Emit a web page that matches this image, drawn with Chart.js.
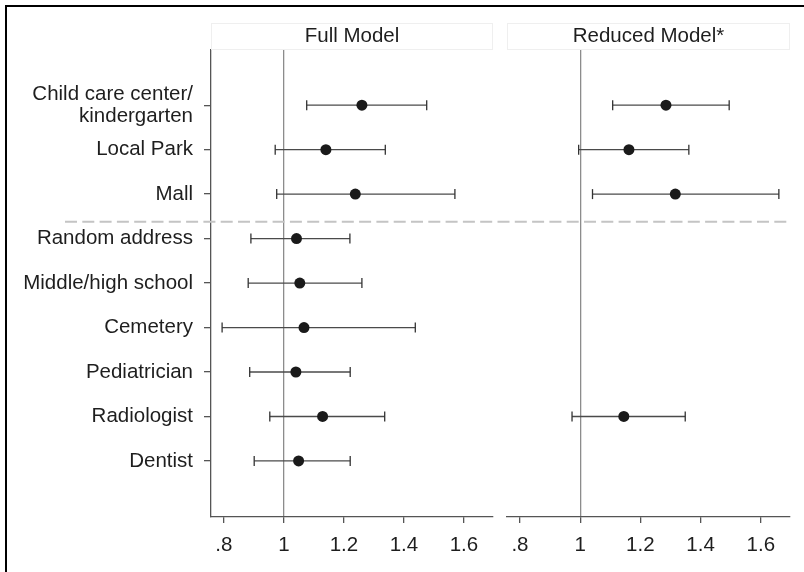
<!DOCTYPE html>
<html>
<head>
<meta charset="utf-8">
<script src="https://cdn.jsdelivr.net/npm/chart.js@4.4.0/dist/chart.umd.min.js"></script>
<style>
  body { margin: 0; background: #fff; overflow: hidden; }
  .wrap { position: absolute; left: 0; top: 0; width: 804px; height: 572px; }
  .wrap canvas { position: absolute; left: 0; top: 0; }
  .frame { position: absolute; left: 5px; top: 5px; width: 900px; height: 700px; border-left: 2px solid #000; border-top: 2px solid #000; }
</style>
</head>
<body>
<div class="wrap">
  <div class="frame"></div>
  <canvas id="fullChart" width="804" height="572"></canvas>
  <canvas id="reducedChart" width="804" height="572"></canvas>
</div>
<script>
const rows = [["Child care center/", "kindergarten"], "Local Park", "Mall", "Random address",
  "Middle/high school", "Cemetery", "Pediatrician", "Radiologist", "Dentist"];

// Full model: odds ratio and 95% CI
const fullEst = [1.26, 1.14, 1.238, 1.042, 1.053, 1.067, 1.04, 1.129, 1.049];
const fullLow = [1.076, 0.971, 0.976, 0.89, 0.881, 0.794, 0.886, 0.953, 0.901];
const fullHigh = [1.476, 1.338, 1.57, 1.22, 1.26, 1.438, 1.221, 1.336, 1.221];

// Reduced model (only some destinations)
const redEst = [1.285, 1.162, 1.316, null, null, null, null, 1.145, null];
const redLow = [1.108, 0.995, 1.041, null, null, null, null, 0.973, null];
const redHigh = [1.495, 1.361, 1.66, null, null, null, null, 1.349, null];

const xTicks = [0.8, 1, 1.2, 1.4, 1.6];
const splitAfter = 2.62; // dashed separator between Mall and Random address

const FONT = "'Liberation Sans', Arial, sans-serif";
const textColor = "#1e1e1e";
const axisColor = "#555";

function buildDatasets(est, low, high) {
  let sets = [{
    type: "scatter",
    data: est.map((v, i) => (v == null ? null : { x: v, y: i })).filter(p => p),
    pointRadius: 5.5,
    pointHoverRadius: 5.5,
    pointBackgroundColor: "#1a1a1a",
    pointBorderWidth: 0,
    order: 0,
    clip: false,
  }];
  est.forEach((v, i) => {
    if (v == null) return;
    sets.push({
      type: "line",
      data: [{ x: low[i], y: i }, { x: high[i], y: i }],
      borderColor: "#4a4a4a",
      borderWidth: 1.3,
      pointStyle: "line",
      rotation: 90,
      pointRadius: 5,
      pointHoverRadius: 5,
      pointBorderColor: "#333",
      pointBorderWidth: 1.3,
      order: 1,
      clip: false,
    });
  });
  return sets;
}

const headerPlugin = {
  id: "header",
  afterDraw(chart, args, opts) {
    const ctx = chart.ctx;
    const a = chart.chartArea;
    ctx.save();
    ctx.strokeStyle = "#efefef";
    ctx.lineWidth = 1;
    ctx.strokeRect(a.left + 0.5, 23.5, a.right - a.left - 1, 26);
    ctx.fillStyle = textColor;
    ctx.font = "20.5px " + FONT;
    ctx.textAlign = "center";
    ctx.textBaseline = "middle";
    ctx.fillText(opts.text, (a.left + a.right) / 2, 36.5);
    if (opts.split) {
      const y = chart.scales.y.getPixelForValue(splitAfter);
      ctx.strokeStyle = "#c4c4c4";
      ctx.lineWidth = 2;
      ctx.setLineDash([12, 5.3]);
      ctx.beginPath();
      ctx.moveTo(65, y);
      ctx.lineTo(787, y);
      ctx.stroke();
    }
    ctx.restore();
  },
};

function makeChart(id, est, low, high, title, showY, pad, split) {
  return new Chart(document.getElementById(id), {
    data: { datasets: buildDatasets(est, low, high) },
    options: {
      responsive: false,
      animation: false,
      events: [],
      layout: { padding: pad },
      plugins: {
        legend: { display: false },
        tooltip: { enabled: false },
        header: { text: title, split: split },
      },
      scales: {
        x: {
          type: "linear",
          min: 0.757,
          max: 1.697,
          afterFit: s => { s.height = 55; },
          afterBuildTicks: s => { s.ticks = xTicks.map(v => ({ value: v })); },
          ticks: {
            font: { family: FONT, size: 20.5 },
            color: textColor,
            padding: 10,
            maxRotation: 0,
            callback: v => String(v).replace(/^0\./, "."),
          },
          grid: {
            color: c => (c.tick && c.tick.value === 1 ? "#8c8c8c" : "rgba(0,0,0,0)"),
            lineWidth: 1.3,
            tickColor: axisColor,
            tickLength: 6,
          },
          border: { display: true, color: axisColor, width: 1.3 },
        },
        y: {
          type: "linear",
          display: showY,
          reverse: true,
          min: -1.24,
          max: 9.26,
          afterFit: s => { s.width = showY ? 211 : 0; },
          afterBuildTicks: s => { s.ticks = rows.map((r, i) => ({ value: i })); },
          ticks: {
            font: { family: FONT, size: 20.5, lineHeight: 1.1 },
            color: textColor,
            padding: 11,
            callback: v => rows[v],
          },
          grid: {
            drawOnChartArea: false,
            tickColor: axisColor,
            tickLength: 7,
            lineWidth: 1.3,
          },
          border: { display: true, color: axisColor, width: 1.3 },
        },
      },
    },
    plugins: [headerPlugin],
  });
}

makeChart("fullChart", fullEst, fullLow, fullHigh, "Full Model", true,
  { left: 0, right: 311, top: 50, bottom: 0 }, true);
makeChart("reducedChart", redEst, redLow, redHigh, "Reduced Model*", false,
  { left: 507, right: 14, top: 50, bottom: 0 }, false);
</script>
</body>
</html>
